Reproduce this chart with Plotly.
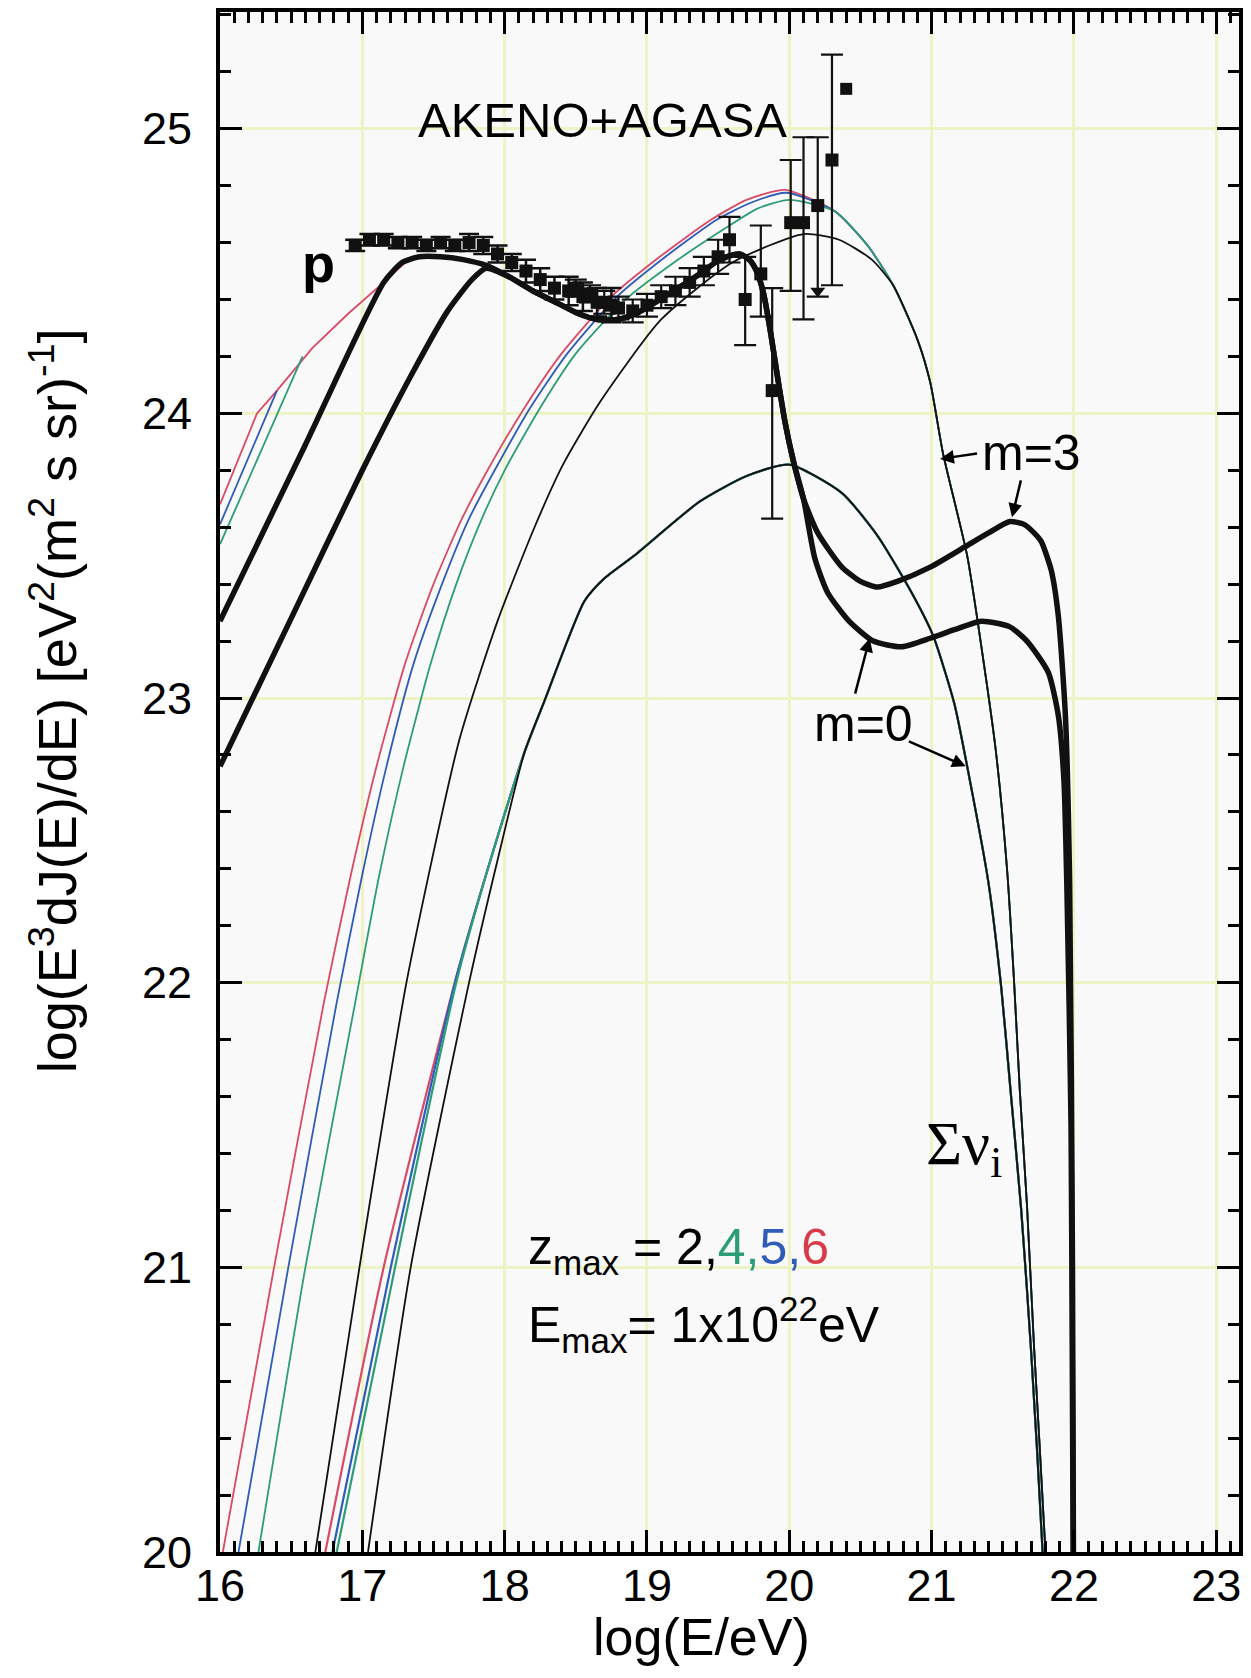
import plotly.graph_objects as go

# ---------------- proton spectra (thick) ----------------
# low-energy branches (m=3 starts higher, m=0 lower)
p_m3_left_x = [16.00, 16.60, 17.15, 17.28, 17.40, 17.55, 17.71, 17.87]
p_m3_left_y = [23.27, 23.89, 24.46, 24.53, 24.55, 24.55, 24.54, 24.52]
p_m0_left_x = [16.00, 16.50, 17.00, 17.35, 17.60, 17.77, 17.87]
p_m0_left_y = [22.76, 23.28, 23.80, 24.14, 24.36, 24.47, 24.51]
# shared part (dip and GZK bump)
p_mid_x = [18.03, 18.20, 18.36, 18.52, 18.65, 18.79, 18.92, 19.09, 19.25, 19.37,
           19.48, 19.56, 19.65, 19.72, 19.77, 19.82, 19.87, 19.92, 19.97, 20.03, 20.10]
p_mid_y = [24.48, 24.43, 24.39, 24.35, 24.33, 24.33, 24.35, 24.40, 24.45, 24.49,
           24.53, 24.55, 24.56, 24.54, 24.50, 24.42, 24.28, 24.12, 23.97, 23.83, 23.70]
# high-energy branches
p_m3_right_x = [20.20, 20.37, 20.50, 20.62, 20.76, 20.99, 21.23, 21.40, 21.55, 21.65,
                21.72, 21.77, 21.84, 21.89, 21.94, 21.97, 21.99, 22.00]
p_m3_right_y = [23.58, 23.46, 23.41, 23.39, 23.41, 23.46, 23.53, 23.58, 23.62, 23.61,
                23.58, 23.55, 23.45, 23.29, 22.94, 22.35, 21.00, 19.50]
p_m0_right_x = [20.18, 20.27, 20.42, 20.59, 20.79, 20.99, 21.16, 21.35, 21.55, 21.67,
                21.82, 21.89, 21.93, 21.95, 21.98, 21.99, 22.00]
p_m0_right_y = [23.49, 23.37, 23.27, 23.20, 23.18, 23.21, 23.24, 23.27, 23.25, 23.20,
                23.09, 22.94, 22.71, 22.35, 21.50, 20.50, 19.50]

# proton curves for z_max = 4, 5, 6 (m=3) at low energy
p_z6_x = [16.00, 16.26, 16.40, 16.65, 16.90, 17.15, 17.30]
p_z6_y = [23.68, 24.00, 24.08, 24.23, 24.35, 24.46, 24.53]
p_z5_x = [16.00, 16.40]
p_z5_y = [23.61, 24.08]
p_z4_x = [16.00, 16.58]
p_z4_y = [23.54, 24.20]

# ---------------- neutrino fluxes, m=3 ----------------
nu3_z6_x = [16.02, 16.38, 16.73, 16.92, 17.10, 17.30, 17.50, 17.70, 17.88, 18.14, 18.40, 18.75, 19.09, 19.45, 19.70, 19.97]
nu3_z6_y = [20.00, 21.00, 21.93, 22.38, 22.76, 23.12, 23.40, 23.63, 23.80, 24.02, 24.21, 24.41, 24.55, 24.68, 24.75, 24.785]
nu3_z5_x = [16.13, 16.48, 16.82, 17.00, 17.17, 17.36, 17.56, 17.75, 17.93, 18.18, 18.44, 18.79, 19.13, 19.49, 19.73, 19.98]
nu3_z5_y = [20.00, 21.00, 21.93, 22.38, 22.76, 23.12, 23.40, 23.63, 23.80, 24.02, 24.21, 24.41, 24.55, 24.68, 24.74, 24.775]
nu3_z4_x = [16.27, 16.60, 16.95, 17.12, 17.29, 17.48, 17.66, 17.84, 18.00, 18.25, 18.50, 18.85, 19.19, 19.55, 19.78, 20.00]
nu3_z4_y = [20.00, 21.00, 21.93, 22.38, 22.76, 23.12, 23.40, 23.63, 23.80, 24.02, 24.21, 24.40, 24.53, 24.65, 24.72, 24.75]
nu3_z2_x = [16.67, 16.98, 17.31, 17.68, 17.95, 18.21, 18.41, 18.67, 19.10, 19.60, 20.10, 20.35, 20.58]
nu3_z2_y = [20.00, 21.00, 22.00, 22.85, 23.27, 23.60, 23.82, 24.04, 24.33, 24.53, 24.63, 24.61, 24.54]
nu3_tail_x = [20.32, 20.55, 20.73, 20.90, 20.99, 21.08, 21.25, 21.35, 21.45, 21.53, 21.58, 21.62, 21.67, 21.72, 21.80, 21.83]
nu3_tail_y = [24.71, 24.59, 24.45, 24.26, 24.11, 23.86, 23.50, 23.18, 22.82, 22.40, 22.00, 21.62, 21.22, 20.72, 20.00, 19.60]

# ---------------- neutrino fluxes, m=0 ----------------
nu0_z6_x = [16.74, 17.15, 17.65, 17.90]
nu0_z5_x = [16.79, 17.20, 17.65, 17.90]
nu0_z4_x = [16.82, 17.23, 17.66, 17.90]
nu0_z2_x = [17.04, 17.34, 17.75, 17.95]
nu0_low_y = [20.00, 21.00, 22.00, 22.43]
nu0_body_x = [18.14, 18.28, 18.56, 18.70, 18.91, 19.37, 19.70, 20.00, 20.37, 20.62, 20.86, 21.01,
              21.16, 21.25, 21.40, 21.49, 21.555, 21.63, 21.70, 21.78, 21.80]
nu0_body_y = [22.81, 22.99, 23.34, 23.42, 23.50, 23.69, 23.78, 23.82, 23.72, 23.57, 23.37, 23.22,
              22.98, 22.76, 22.35, 21.98, 21.62, 21.20, 20.70, 20.00, 19.60]

# ---------------- AKENO + AGASA data ----------------
akeno_logE = [16.95, 17.05, 17.15, 17.25, 17.35, 17.45, 17.55, 17.65, 17.75, 17.85,
              17.95, 18.05, 18.15, 18.25, 18.35, 18.45, 18.55, 18.65, 18.75]
akeno_flux = [24.59, 24.61, 24.61, 24.60, 24.60, 24.59, 24.60, 24.59, 24.60, 24.59,
              24.56, 24.53, 24.50, 24.47, 24.44, 24.43, 24.41, 24.39, 24.38]
akeno_err = [0.02, 0.02, 0.02, 0.02, 0.02, 0.02, 0.02, 0.02, 0.03, 0.03,
             0.03, 0.03, 0.04, 0.04, 0.04, 0.05, 0.05, 0.05, 0.06]

agasa_logE = [18.50, 18.60, 18.70, 18.80, 18.90, 19.00, 19.10, 19.20, 19.30, 19.40,
              19.50, 19.58, 19.69, 19.80, 19.88, 20.01, 20.10, 20.20, 20.30]
agasa_flux = [24.44, 24.42, 24.39, 24.37, 24.36, 24.38, 24.41, 24.43, 24.46, 24.50,
              24.55, 24.61, 24.40, 24.49, 24.08, 24.67, 24.67, 24.73, 24.89]
agasa_err_up = [0.03, 0.03, 0.04, 0.04, 0.04, 0.04, 0.04, 0.05, 0.05, 0.05,
                0.06, 0.08, 0.15, 0.17, 0.36, 0.22, 0.30, 0.24, 0.37]
agasa_err_dn = [0.03, 0.03, 0.04, 0.04, 0.04, 0.04, 0.04, 0.05, 0.05, 0.05,
                0.06, 0.08, 0.16, 0.15, 0.45, 0.24, 0.34, 0.32, 0.44]
agasa_limit_index = 17          # point whose lower bar ends in an arrow
agasa_single_logE = [20.40]
agasa_single_flux = [25.14]

RED = "#d94a66"
BLUE = "#2f5cb8"
GREEN = "#2c9d78"
BLACK = "#111111"

fig = go.Figure()


def curve(x, y, color, width, shape="spline"):
    fig.add_trace(go.Scatter(
        x=x, y=y, mode="lines",
        line=dict(color=color, width=width, shape=shape, smoothing=0.6),
        hoverinfo="skip", showlegend=False))


# neutrinos, m=0 (coloured curves almost coincide with the z=2 one)
for xs, col in [(nu0_z6_x, RED), (nu0_z5_x, BLUE), (nu0_z4_x, GREEN)]:
    curve(xs + nu0_body_x, nu0_low_y + nu0_body_y, col, 2.2)
curve(nu0_z2_x + nu0_body_x, nu0_low_y + nu0_body_y, BLACK, 1.8)

# neutrinos, m=3
curve(nu3_z6_x + nu3_tail_x, nu3_z6_y + nu3_tail_y, RED, 1.8)
curve(nu3_z5_x + nu3_tail_x, nu3_z5_y + nu3_tail_y, BLUE, 1.8)
curve(nu3_z4_x + nu3_tail_x, nu3_z4_y + nu3_tail_y, GREEN, 1.8)
curve(nu3_z2_x + nu3_tail_x[2:], nu3_z2_y + nu3_tail_y[2:], BLACK, 1.8)

# protons, low-energy coloured curves
curve(p_z6_x, p_z6_y, RED, 1.8, "linear")
curve(p_z5_x, p_z5_y, BLUE, 1.8, "linear")
curve(p_z4_x, p_z4_y, GREEN, 1.8, "linear")

# protons, thick curves
curve(p_m3_left_x + p_mid_x + p_m3_right_x, p_m3_left_y + p_mid_y + p_m3_right_y, BLACK, 5.5)
curve(p_m0_left_x + p_mid_x + p_m0_right_x, p_m0_left_y + p_mid_y + p_m0_right_y, BLACK, 5.5)

# data
fig.add_trace(go.Scatter(
    x=akeno_logE, y=akeno_flux, mode="markers",
    marker=dict(symbol="square", size=13, color=BLACK),
    error_y=dict(type="data", array=akeno_err, color=BLACK, thickness=2.5, width=10),
    hoverinfo="skip", showlegend=False))
fig.add_trace(go.Scatter(
    x=agasa_logE, y=agasa_flux, mode="markers",
    marker=dict(symbol="square", size=13, color=BLACK),
    error_y=dict(type="data", symmetric=False, array=agasa_err_up, arrayminus=agasa_err_dn,
                 color=BLACK, thickness=2.2, width=11),
    hoverinfo="skip", showlegend=False))
fig.add_trace(go.Scatter(
    x=agasa_single_logE, y=agasa_single_flux, mode="markers",
    marker=dict(symbol="square", size=12, color=BLACK),
    hoverinfo="skip", showlegend=False))
i = agasa_limit_index
fig.add_trace(go.Scatter(
    x=[agasa_logE[i]], y=[agasa_flux[i] - agasa_err_dn[i] + 0.02], mode="markers",
    marker=dict(symbol="triangle-down", size=13, color=BLACK),
    hoverinfo="skip", showlegend=False))

ann = []
FONT = "Liberation Sans, Arial, sans-serif"


def label(text, x, y, size, xanchor="center", family=FONT):
    ann.append(dict(text=text, x=x, y=y, xref="x", yref="y", showarrow=False,
                    xanchor=xanchor, yanchor="middle",
                    font=dict(size=size, family=family, color="black")))


def arrow(x_tail, y_tail, x_head, y_head):
    ann.append(dict(text="", x=x_head, y=y_head, ax=x_tail, ay=y_tail,
                    xref="x", yref="y", axref="x", ayref="y",
                    showarrow=True, arrowhead=2, arrowsize=1.1, arrowwidth=2.5,
                    arrowcolor="black"))


label("AKENO+AGASA", 17.375, 25.03, 49, "left")
label("<b>p</b>", 16.69, 24.53, 54)
label("m=3", 21.70, 23.86, 50)
label("m=0", 20.52, 22.91, 50)
label("Σν<sub>i</sub>", 20.95, 21.42, 62, "left", "Liberation Serif, Times New Roman, serif")
label("z<sub>max</sub> = 2,<span style='color:#2c9d78'>4,</span>"
      "<span style='color:#2f5cb8'>5,</span><span style='color:#d93a4a'>6</span>",
      18.15, 21.06, 50, "left")
label("E<sub>max</sub>= 1x10<sup>22</sup>eV", 18.15, 20.80, 50, "left")

arrow(21.33, 23.86, 21.06, 23.84)
arrow(21.63, 23.77, 21.565, 23.635)
arrow(20.46, 23.01, 20.565, 23.21)
arrow(20.83, 22.85, 21.24, 22.76)

# axis titles
ann.append(dict(text="log(E/eV)", x=0.4725, y=-0.055, xref="paper", yref="paper",
                showarrow=False, xanchor="center", yanchor="middle",
                font=dict(size=52, family=FONT, color="black")))
ann.append(dict(text="log(E<sup>3</sup>dJ(E)/dE) [eV<sup>2</sup>(m<sup>2</sup> s sr)<sup>-1</sup>]",
                x=-0.163, y=0.553, xref="paper", yref="paper", textangle=-90,
                showarrow=False, xanchor="center", yanchor="middle",
                font=dict(size=54, family=FONT, color="black")))

axis_common = dict(
    ticks="inside", ticklen=22, tickwidth=3, tickcolor="black",
    showline=True, linewidth=4, linecolor="black", mirror="ticks",
    showgrid=True, gridcolor="#eef3c6", gridwidth=3, zeroline=False,
    tickfont=dict(size=45, family=FONT, color="black"),
)

fig.update_xaxes(range=[16, 23.16], tick0=16, dtick=1,
                 minor=dict(dtick=0.1, ticks="inside", ticklen=11, tickwidth=3,
                            tickcolor="black", showgrid=False),
                 ticklabelstandoff=-9, **axis_common)
fig.update_yaxes(range=[20, 25.41], tick0=20, dtick=1,
                 minor=dict(dtick=0.2, ticks="inside", ticklen=11, tickwidth=3,
                            tickcolor="black", showgrid=False),
                 ticklabelstandoff=15, **axis_common)

fig.update_layout(
    width=1251, height=1678,
    margin=dict(l=220, r=11, t=8, b=126),
    paper_bgcolor="white", plot_bgcolor="#f9f9f9",
    showlegend=False, annotations=ann,
    font=dict(family=FONT, color="black"),
)

fig.write_html("out.html")
